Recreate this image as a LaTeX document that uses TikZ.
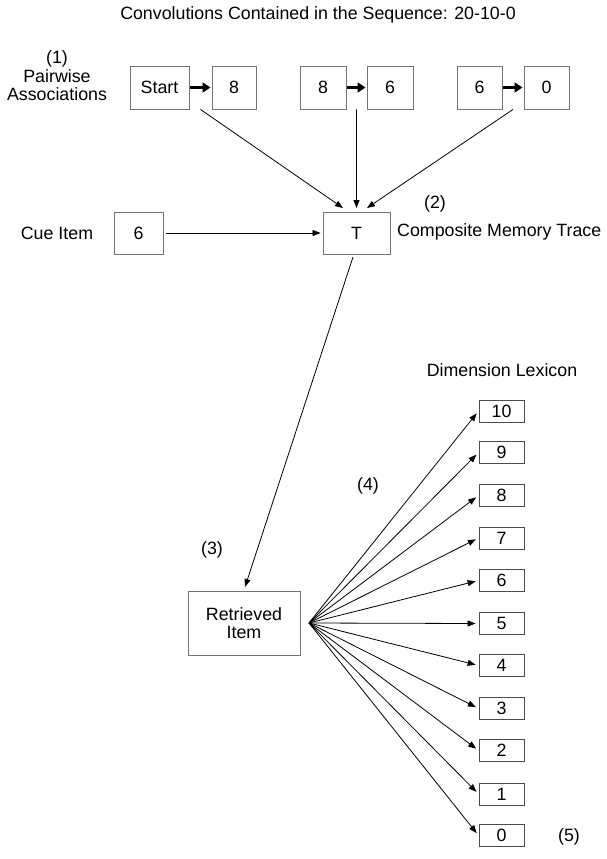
\documentclass[tikz,border=0pt]{standalone}
\usepackage{fontspec}
\setmainfont{Liberation Sans}
\usetikzlibrary{arrows.meta,calc}
\begin{document}
\begin{tikzpicture}[x=1pt,y=-1pt,
  font=\fontsize{17.8}{18.5}\selectfont,
  box/.style={draw=black!55, line width=0.9pt, inner sep=0pt, minimum height=43pt, minimum width=45pt},
  lexbox/.style={draw=black!70, line width=0.9pt, inner sep=0pt, minimum height=22pt, minimum width=45pt},
  conn/.style={draw=black, line width=0.8pt, -{Triangle[length=8pt,width=6pt]}},
  thick arrow/.style={draw=black, line width=3.2pt, -{Triangle[length=8pt,width=10pt]}, shorten <=1pt, shorten >=1pt},
  lbl/.style={inner sep=0pt}]
\useasboundingbox (0,0) rectangle (607,859);
\fill[white] (0,0) rectangle (607,859);

% title
\node[lbl] (title) at (318,15) {Convolutions Contained in the Sequence: 20-10-0};

% pairwise associations
\node[lbl, align=center] (pairlbl) at (57,76) {(1)\\Pairwise\\Associations};
\node[box, minimum width=59pt] (s1) at (159.5,87.5) {Start};
\node[box, minimum width=44pt] (e1) at (234,87.5) {8};
\node[box, minimum width=46pt] (s2) at (323,87.5) {8};
\node[box, minimum width=46pt] (e2) at (390,87.5) {6};
\node[box, minimum width=45pt] (s3) at (479.5,87.5) {6};
\node[box, minimum width=45pt] (e3) at (546.5,87.5) {0};
\draw[thick arrow] (s1) -- (e1);
\draw[thick arrow] (s2) -- (e2);
\draw[thick arrow] (s3) -- (e3);

% memory trace
\node[lbl] (cuelbl) at (57,233) {Cue Item};
\node[box, minimum width=49pt, minimum height=42pt] (cue) at (138.5,233) {6};
\node[box, minimum width=67pt, minimum height=42pt] (T) at (356.5,233) {T};
\node[lbl] (two) at (435,204) {(2)};
\node[lbl, anchor=west] (comp) at (397,232) {Composite Memory Trace};

\coordinate (q1) at ($(s1.south east)!0.5!(e1.south west)$);
\coordinate (q2) at ($(s2.south east)!0.5!(e2.south west)$);
\coordinate (q3) at ($(s3.south east)!0.5!(e3.south west)$);
\coordinate (t1) at (343,208);
\coordinate (t2) at (356.5,208);
\coordinate (t3) at (367,208);
\draw[conn] (q1) -- (t1);
\draw[conn] (q2) -- (t2);
\draw[conn] (q3) -- (t3);
\draw[conn, shorten <=3pt, shorten >=2pt] (cue) -- (T.west);

% retrieval
\node[box, minimum width=112pt, minimum height=64pt, align=center] (ret) at (244,623) {Retrieved\\Item};
\node[lbl] (three) at (212,550) {(3)};
\node[lbl] (four) at (368,486) {(4)};
\coordinate (tb) at (353,257);
\coordinate (rt) at (245,587);
\draw[conn] (tb) -- (rt);

% lexicon
\node[lbl] (lexlbl) at (502,370) {Dimension Lexicon};
\coordinate (fan) at (309,623);
\foreach \v/\yy in {10/411,9/452.5,8/495.5,7/538,6/580.5,5/623.5,4/665.5,3/708.5,2/750.5,1/794,0/835.5}{
  \node[lexbox] (L\v) at (501.5,\yy) {\v};
  \draw[conn, shorten >=3pt] (fan) -- (L\v.west);
}
\node[lbl] (five) at (569,837) {(5)};
\end{tikzpicture}
\end{document}
